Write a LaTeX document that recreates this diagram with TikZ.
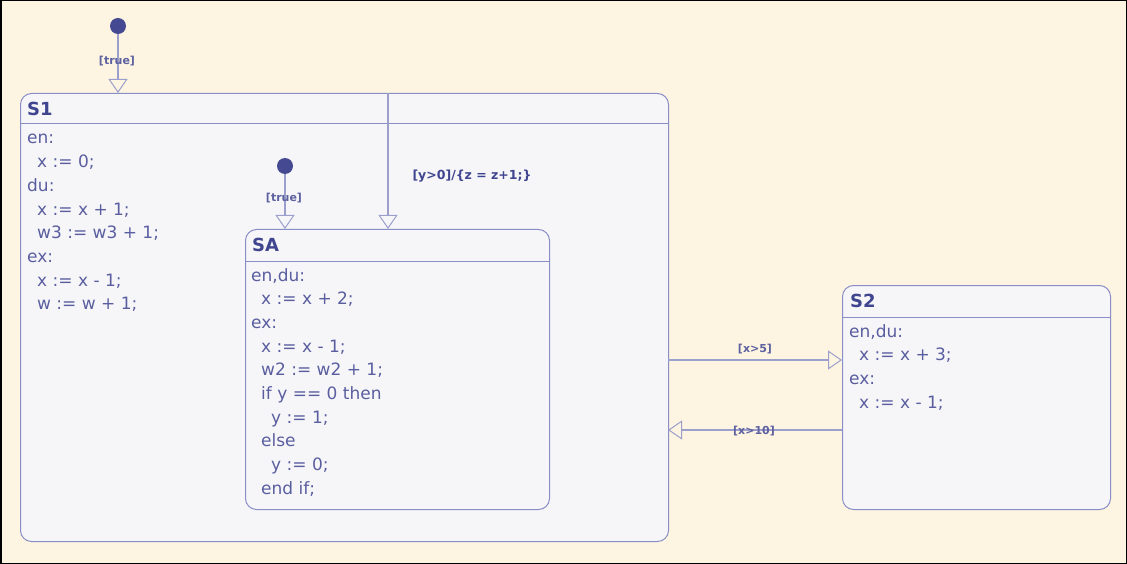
\documentclass[tikz,border=0pt]{standalone}
\usepackage{fontspec}
\setmainfont{DejaVu Sans}
\usetikzlibrary{arrows.meta}
\definecolor{bgcream}{HTML}{FDF4E2}
\definecolor{stline}{HTML}{8A8EC6}
\definecolor{stfill}{HTML}{F6F6F9}
\definecolor{titlecol}{HTML}{40458F}
\definecolor{bodycol}{HTML}{5A5E9F}
\definecolor{trcol}{HTML}{9C9FCC}
\definecolor{dotcol}{HTML}{444991}
\tikzset{
  statebox/.style={draw=stline, fill=stfill, line width=1pt, rounded corners=11pt, inner sep=0pt, anchor=north west},
  hdr/.style={draw=stline, line width=1pt},
  sttitle/.style={font=\fontsize{18}{20}\selectfont\bfseries, text=titlecol, anchor=west, inner sep=0pt},
  stbody/.style={font=\fontsize{17}{23.7}\selectfont, text=bodycol, anchor=base west, inner sep=0pt},
  initdot/.style={circle, fill=dotcol, minimum size=16pt, inner sep=0pt},
  trans/.style={draw=trcol, line width=1.1pt, -{Triangle[open, length=14pt, width=19pt, line width=1pt]}},
  trlab/.style={font=\fontsize{11}{12}\selectfont\bfseries, text=titlecol!85, inner sep=0pt},
  trlabbig/.style={font=\fontsize{12.5}{14}\selectfont\bfseries, text=titlecol, inner sep=0pt}
}
\newcommand{\ind}{\hskip10pt}
\begin{document}
\begin{tikzpicture}[x=1pt, y=-1pt]
\useasboundingbox (0,0) rectangle (1127,564);
\fill[bgcream] (0,0) rectangle (1127,564);
\draw[black, line width=1.5pt] (0.75,0.75) rectangle (1126.25,563.25);

% S1
\node[statebox, minimum width=648pt, minimum height=448pt] (S1) at (20,93) {};
\coordinate (S1hl) at (20,124);
\coordinate (S1hr) at (668,124);
\draw[hdr] (S1hl) -- (S1hr);
\node[sttitle] (S1t) at (27,108.5) {S1};
\node[stbody] (S1b) at (27,144) {\vtop{\baselineskip=23.7pt
  \hbox{en:}\hbox{\ind x := 0;}\hbox{du:}\hbox{\ind x := x + 1;}\hbox{\ind w3 := w3 + 1;}
  \hbox{ex:}\hbox{\ind x := x - 1;}\hbox{\ind w := w + 1;}}};

% SA
\node[statebox, minimum width=304pt, minimum height=280pt] (SA) at (245,229) {};
\coordinate (SAhl) at (245,261);
\coordinate (SAhr) at (549,261);
\draw[hdr] (SAhl) -- (SAhr);
\node[sttitle] (SAt) at (252,245) {SA};
\node[stbody] (SAb) at (251,281) {\vtop{\baselineskip=23.7pt
  \hbox{en,du:}\hbox{\ind x := x + 2;}\hbox{ex:}\hbox{\ind x := x - 1;}\hbox{\ind w2 := w2 + 1;}
  \hbox{\ind if y == 0 then}\hbox{\ind\ind y := 1;}\hbox{\ind else}\hbox{\ind\ind y := 0;}\hbox{\ind end if;}}};

% S2
\node[statebox, minimum width=268pt, minimum height=224pt] (S2) at (842,285) {};
\coordinate (S2hl) at (842,317);
\coordinate (S2hr) at (1110,317);
\draw[hdr] (S2hl) -- (S2hr);
\node[sttitle] (S2t) at (850,301) {S2};
\node[stbody] (S2b) at (849,337) {\vtop{\baselineskip=23.7pt
  \hbox{en,du:}\hbox{\ind x := x + 3;}\hbox{ex:}\hbox{\ind x := x - 1;}}};

% initial transitions
\node[initdot] (i1) at (118,26) {};
\draw[trans] (i1) -- (i1 |- S1.north);
\node[trlab] (l1) at (117,61) {[true]};

\node[initdot] (i2) at (285,166) {};
\draw[trans] (i2) -- (i2 |- SA.north);
\node[trlab] (l2) at (284,198) {[true]};

% S1 -> SA transition
\coordinate (t1s) at (388,93);
\draw[trans] (t1s) -- (t1s |- SA.north);
\node[trlabbig] (l3) at (472,176) {[y>0]/\{z = z+1;\}};

% S1 <-> S2
\coordinate (a1) at (668,360);
\coordinate (a2) at (842,360);
\draw[trans] (a1) -- (a2);
\node[trlab] (l4) at (755,349) {[x>5]};
\coordinate (b1) at (842,430);
\coordinate (b2) at (668,430);
\draw[trans] (b1) -- (b2);
\node[trlab] (l5) at (754,431) {[x>10]};
\end{tikzpicture}
\end{document}
